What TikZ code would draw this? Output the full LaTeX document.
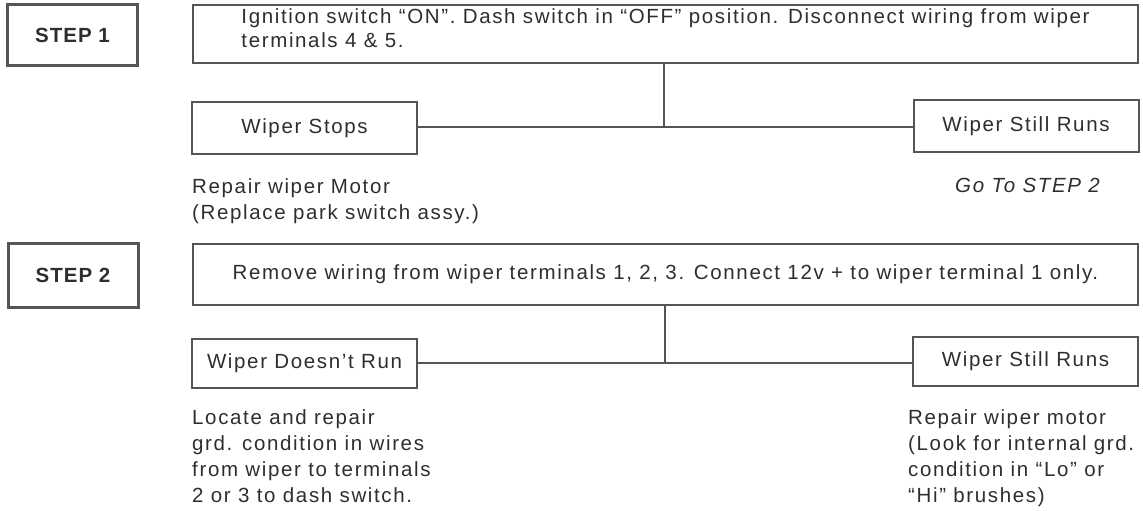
\documentclass[tikz,border=0pt]{standalone}
\usepackage{fontspec}
\setmainfont{Liberation Sans}
\newfontfamily\chartfont[LetterSpace=8]{Liberation Sans}
\newfontfamily\stepfont[LetterSpace=5]{Liberation Sans}
\definecolor{ink}{HTML}{2E2E2E}
\definecolor{rule}{HTML}{555555}
\tikzset{
  box/.style     = {draw=rule, text=ink, inner sep=0pt, align=center,
                    font=\chartfont\fontsize{20.5}{26}\selectfont},
  stepbox/.style = {box, line width=3pt, minimum width=130pt,
                    font=\stepfont\bfseries\fontsize{20.5}{24}\selectfont},
  taskbox/.style = {box, line width=2.6pt, minimum width=945pt},
  resbox/.style  = {box, line width=2pt, minimum width=225pt},
  note/.style    = {text=ink, inner sep=0pt, align=left, anchor=north west,
                    font=\chartfont\fontsize{20.5}{26}\selectfont},
  wire/.style    = {draw=rule, line width=2.2pt}
}
\begin{document}
\begin{tikzpicture}[x=1pt, y=-1pt]
  \useasboundingbox (0,0) rectangle (1143,511);
  \node[stepbox, minimum height=61pt] (step1) at (72.5,35.5) {STEP 1};
  \node[taskbox, minimum height=58pt, align=left, text depth=12pt,
        font=\chartfont\fontsize{20.5}{24}\selectfont] (taskA) at (665.5,34)
    {Ignition switch “ON”. Dash switch in “OFF” position. Disconnect wiring from wiper\\
     terminals 4 \& 5.};
  \node[resbox, minimum height=52pt] (stopA) at (304.5,128) {Wiper Stops};
  \node[resbox, minimum height=52pt] (runA)  at (1026,126)  {Wiper Still Runs};
  \coordinate (jA) at (664,127);
  \node[note] (fixA) at (192,178) {Repair wiper Motor\\(Replace park switch assy.)};
  \node[note, anchor=center, font=\chartfont\itshape\fontsize{20.5}{26}\selectfont]
    (gotoA) at (1027.5,185) {Go To STEP 2};
  \draw[wire] (taskA.south -| jA) -- (jA);
  \draw[wire] (stopA.east |- jA) -- (runA.west |- jA);

  \node[stepbox, minimum height=64pt] (step2) at (73,275) {STEP 2};
  \node[taskbox, minimum height=61pt] (taskB) at (665.5,274.5)
    {Remove wiring from wiper terminals 1, 2, 3. Connect 12v + to wiper terminal 1 only.};
  \node[resbox, minimum height=49pt] (stopB) at (304.5,363.5) {Wiper Doesn’t Run};
  \node[resbox, minimum height=49pt] (runB)  at (1025.5,361.5) {Wiper Still Runs};
  \coordinate (jB) at (665,363);
  \node[note] (fixB) at (192,409)
    {Locate and repair\\grd. condition in wires\\from wiper to terminals\\2 or 3 to dash switch.};
  \node[note] (fixC) at (908,409)
    {Repair wiper motor\\(Look for internal grd.\\condition in “Lo” or\\“Hi” brushes)};
  \draw[wire] (taskB.south -| jB) -- (jB);
  \draw[wire] (stopB.east |- jB) -- (runB.west |- jB);
\end{tikzpicture}
\end{document}
